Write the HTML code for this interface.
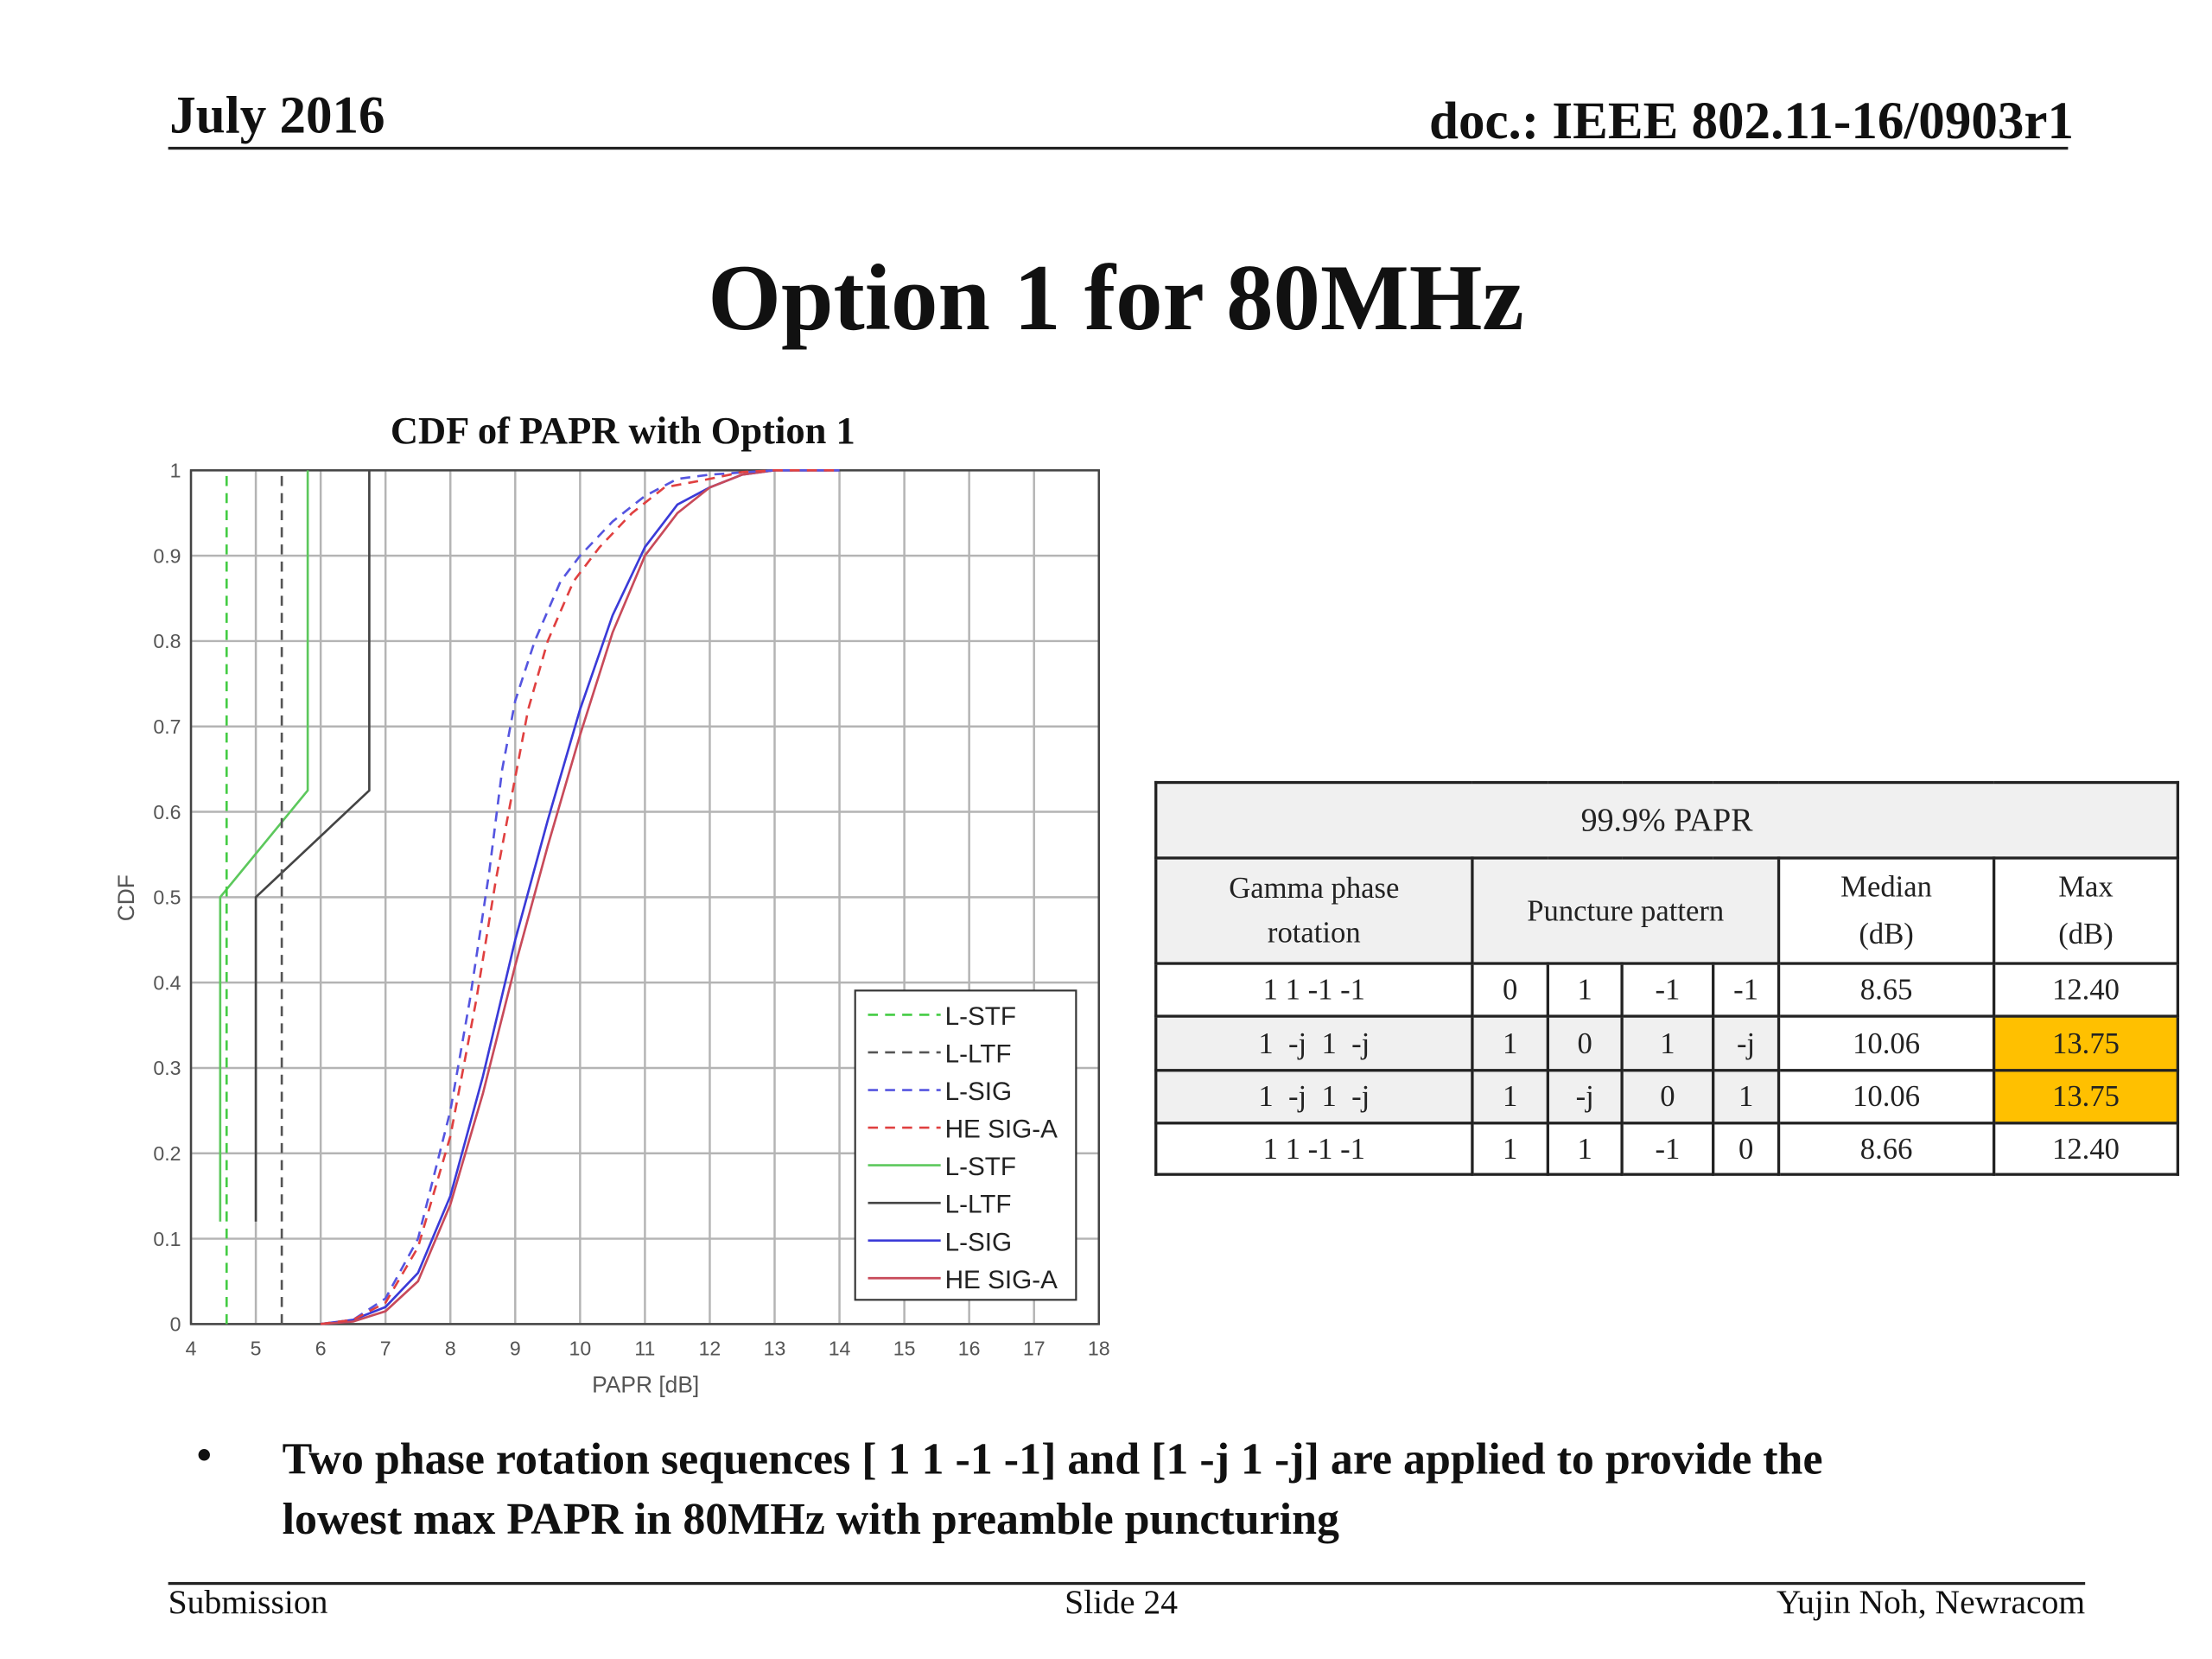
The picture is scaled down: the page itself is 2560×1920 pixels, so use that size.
<!DOCTYPE html>
<html><head><meta charset="utf-8">
<style>
html,body{margin:0;padding:0;background:#fff;}
body{width:2560px;height:1920px;overflow:hidden;position:relative;}
#slide{position:absolute;left:0;top:0;width:1552px;height:1164px;transform:scale(1.64948);transform-origin:0 0;font-family:"Liberation Serif",serif;color:#111;}
.abs{position:absolute;white-space:nowrap;}
table{border-collapse:collapse;position:absolute;left:810px;top:548px;width:719px;font-family:"Liberation Serif",serif;font-size:21px;color:#222;}
td{border:2px solid #222;text-align:center;padding:0;}
.g{background:#f0f0f0;}
.hl{background:#ffc000;}
</style></head>
<body>
<div id="slide">
  <div class="abs" style="left:119px;top:60px;font-size:37px;font-weight:bold;">July 2016</div>
  <div class="abs" style="right:97px;top:64px;font-size:37px;font-weight:bold;">doc.: IEEE 802.11-16/0903r1</div>
  <div class="abs" style="left:118px;top:103px;width:1333px;height:2px;background:#222;"></div>
  <div class="abs" style="left:0;width:1566px;text-align:center;top:172px;font-size:66px;font-weight:bold;">Option 1 for 80MHz</div>

  <svg id="chart" class="abs" style="left:0;top:0;" width="800" height="1000" viewBox="0 0 800 1000"></svg>

  <table>
    <tr style="height:53px"><td colspan="7" class="g" style="font-size:23px">99.9% PAPR</td></tr>
    <tr style="height:74px">
      <td class="g" style="width:220px;line-height:31px">Gamma phase<br>rotation</td>
      <td colspan="4" class="g" style="width:213px">Puncture pattern</td>
      <td style="width:149px;line-height:33px">Median<br>(dB)</td>
      <td style="line-height:33px">Max<br>(dB)</td>
    </tr>
    <tr style="height:37px"><td>1 1 -1 -1</td><td style="width:51px">0</td><td style="width:50px">1</td><td style="width:62px">-1</td><td style="width:44px">-1</td><td>8.65</td><td>12.40</td></tr>
    <tr style="height:38px" class="g"><td>1 &nbsp;-j &nbsp;1 &nbsp;-j</td><td>1</td><td>0</td><td>1</td><td>-j</td><td style="background:#fff">10.06</td><td class="hl">13.75</td></tr>
    <tr style="height:37px" class="g"><td>1 &nbsp;-j &nbsp;1 &nbsp;-j</td><td>1</td><td>-j</td><td>0</td><td>1</td><td style="background:#fff">10.06</td><td class="hl">13.75</td></tr>
    <tr style="height:36px"><td>1 1 -1 -1</td><td>1</td><td>1</td><td>-1</td><td>0</td><td>8.66</td><td>12.40</td></tr>
  </table>

  <div class="abs" style="left:138px;top:1005px;font-size:30px;font-weight:bold;">•</div>
  <div class="abs" style="left:198px;top:1003px;font-size:31.5px;font-weight:bold;line-height:42px;">Two phase rotation sequences [ 1 1 -1 -1] and [1 -j 1 -j] are applied to provide the<br>lowest max PAPR in 80MHz with preamble puncturing</div>

  <div class="abs" style="left:118px;top:1110px;width:1345px;height:2px;background:#222;"></div>
  <div class="abs" style="left:118px;top:1112px;font-size:24px;">Submission</div>
  <div class="abs" style="left:747px;top:1112px;font-size:24px;">Slide 24</div>
  <div class="abs" style="right:89px;top:1112px;font-size:24px;">Yujin Noh, Newracom</div>
</div>

<script>
const xTicks = [4,5,6,7,8,9,10,11,12,13,14,15,16,17,18];
const yTicks = [0,0.1,0.2,0.3,0.4,0.5,0.6,0.7,0.8,0.9,1];
const yTickLabels = ["0","0.1","0.2","0.3","0.4","0.5","0.6","0.7","0.8","0.9","1"];
const seriesNames = ["L-STF","L-LTF","L-SIG","HE SIG-A","L-STF","L-LTF","L-SIG","HE SIG-A"];
const lstfDashX = [4.55,4.55];
const lstfDashY = [0,1];
const lltfDashX = [5.4,5.4];
const lltfDashY = [0,1];
const lsigDashX = [6,6.5,7,7.5,8,8.3,8.6,8.8,9,9.3,9.7,10,10.5,11,11.5,12,13,14];
const lsigDashY = [0,0.005,0.03,0.1,0.25,0.38,0.53,0.65,0.73,0.8,0.87,0.9,0.94,0.97,0.99,0.995,1,1];
const hesigDashX = [6,6.5,7,7.5,8,8.4,8.7,8.95,9.2,9.5,9.9,10.3,10.8,11.3,12,12.5,13,14];
const hesigDashY = [0,0.005,0.025,0.09,0.22,0.38,0.52,0.62,0.72,0.8,0.87,0.91,0.95,0.98,0.99,0.998,1,1];
const lstfSolidX = [4.45,4.45,5.8,5.8];
const lstfSolidY = [0.12,0.5,0.625,1];
const lltfSolidX = [5,5,6.75,6.75];
const lltfSolidY = [0.12,0.5,0.625,1];
const lsigSolidX = [6,6.5,7,7.5,8,8.5,9,9.5,10,10.5,11,11.5,12,12.5,13,14];
const lsigSolidY = [0,0.005,0.02,0.06,0.15,0.29,0.45,0.59,0.72,0.83,0.91,0.96,0.98,0.995,1,1];
const hesigSolidX = [6,6.5,7,7.5,8,8.5,9,9.5,10,10.5,11,11.5,12,12.5,13,14];
const hesigSolidY = [0,0.003,0.015,0.05,0.14,0.27,0.42,0.56,0.69,0.81,0.9,0.95,0.98,0.995,1,1];

const svg = document.getElementById('chart');
const NS = 'http://www.w3.org/2000/svg';
const L=134, R=771, T=330, B=929, XMIN=4, XMAX=18;
function sx(v){return L+(v-XMIN)/(XMAX-XMIN)*(R-L);}
function sy(v){return B-v*(B-T);}
function mk(tag, attrs){const e=document.createElementNS(NS,tag);for(const k in attrs)e.setAttribute(k,attrs[k]);svg.appendChild(e);return e;}

let bg=mk('rect',{x:L,y:T,width:R-L,height:B-T,fill:'#fff'});



xTicks.forEach(function(v){
  const g=mk('line',{x1:sx(v),x2:sx(v),y1:T,y2:B,stroke:'#b4b4b4','stroke-width':1.5});
  
  
  const t=mk('text',{x:sx(v),y:B+22,'text-anchor':'middle','font-size':14,'font-family':'Liberation Sans, sans-serif',fill:'#555'});
  t.textContent=String(v);
  
  
});
yTicks.forEach(function(v,i){
  const g=mk('line',{x1:L,x2:R,y1:sy(v),y2:sy(v),stroke:'#b4b4b4','stroke-width':1.5});
  
  
  const t=mk('text',{x:L-7,y:sy(v)+5,'text-anchor':'end','font-size':14,'font-family':'Liberation Sans, sans-serif',fill:'#555'});
  t.textContent=yTickLabels[i];
  
  
});
let frame=mk('rect',{x:L,y:T,width:R-L,height:B-T,fill:'none',stroke:'#444','stroke-width':1.5});



function series(xs, ys, color, dash, name){
  const pts=xs.map(function(x,i){return sx(x).toFixed(1)+','+sy(ys[i]).toFixed(1);}).join(' ');
  const p=mk('polyline',{points:pts,fill:'none',stroke:color,'stroke-width':1.6});
  if(dash) p.setAttribute('stroke-dasharray','7,5');
  
  
}
series(lsigSolidX,lsigSolidY,'#3a3ad8',false,'l-sig-solid-line');
series(hesigSolidX,hesigSolidY,'#c84a5a',false,'he-sig-a-solid-line');
series(lsigDashX,lsigDashY,'#5555e0',true,'l-sig-dashed-line');
series(hesigDashX,hesigDashY,'#e04040',true,'he-sig-a-dashed-line');
series(lstfSolidX,lstfSolidY,'#5cc85c',false,'l-stf-solid-line');
series(lltfSolidX,lltfSolidY,'#444',false,'l-ltf-solid-line');
series(lstfDashX,lstfDashY,'#44cc44',true,'l-stf-dashed-line');
series(lltfDashX,lltfDashY,'#555',true,'l-ltf-dashed-line');

let title=mk('text',{x:437,y:311,'text-anchor':'middle','font-size':27,'font-weight':'bold','font-family':'Liberation Serif, serif',fill:'#111'});
title.textContent='CDF of PAPR with Option 1';


let xl=mk('text',{x:453,y:977,'text-anchor':'middle','font-size':16,'font-family':'Liberation Sans, sans-serif',fill:'#555'});
xl.textContent='PAPR [dB]';


let yl=mk('text',{x:94,y:630,'text-anchor':'middle','font-size':16,'font-family':'Liberation Sans, sans-serif',fill:'#555',transform:'rotate(-90 94 630)'});
yl.textContent='CDF';



let lg=mk('rect',{x:600,y:695,width:155,height:217,fill:'#fff',stroke:'#333','stroke-width':1.3});


const legColors=['#44cc44','#555','#5555e0','#e04040','#5cc85c','#444','#3a3ad8','#c84a5a'];
seriesNames.forEach(function(n,i){
  const y=712+i*26.4;
  const ln=mk('line',{x1:609,x2:660,y1:y,y2:y,stroke:legColors[i],'stroke-width':1.6});
  if(i<4) ln.setAttribute('stroke-dasharray','7,5');
  
  
  const t=mk('text',{x:663,y:y+7,'font-size':18,'font-family':'Liberation Sans, sans-serif',fill:'#222'});
  t.textContent=n;
  
  
});
</script>
</body></html>
